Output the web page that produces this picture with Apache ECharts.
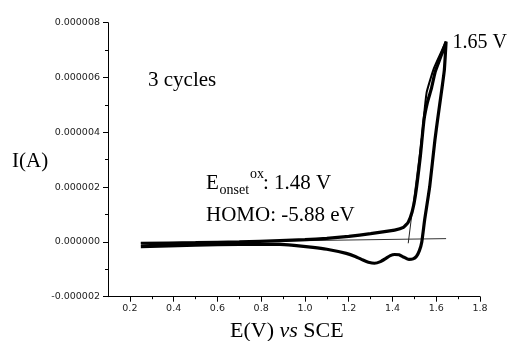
<!DOCTYPE html>
<html>
<head>
<meta charset="utf-8">
<script src="https://cdn.jsdelivr.net/npm/echarts@6/dist/echarts.min.js"></script>
<style>
html,body{margin:0;padding:0;background:#fff;}
#chart{width:511px;height:341px;}
</style>
</head>
<body>
<div id="chart"></div>
<script>
// Potential (V vs SCE) and current (µA)
var forwardScan = [
  [0.25,-0.05],[0.5,-0.03],[0.7,0.0],[0.885,0.05],[1.0,0.08],[1.1,0.13],[1.2,0.2],[1.3,0.3],
  [1.41,0.43],[1.45,0.53],[1.472,0.72],[1.49,1.1],[1.505,1.7],[1.527,3.1],[1.544,4.45],
  [1.56,5.1],[1.578,5.6],[1.595,6.2],[1.618,6.7],[1.645,7.31]
];
var reverseScan = [
  [1.645,7.31],[1.637,6.27],[1.625,5.54],[1.606,4.45],[1.594,3.72],[1.57,2.01],[1.547,0.8],
  [1.534,0.0],[1.523,-0.32],[1.51,-0.52],[1.494,-0.62],[1.475,-0.64],[1.45,-0.55],[1.43,-0.47],
  [1.41,-0.46],[1.39,-0.5],[1.37,-0.6],[1.345,-0.72],[1.318,-0.78],[1.29,-0.74],[1.265,-0.66],
  [1.23,-0.53],[1.189,-0.42],[1.1,-0.27],[1.037,-0.2],[0.95,-0.13],[0.885,-0.09],[0.7,-0.09],
  [0.5,-0.12],[0.25,-0.17]
];
var cycle2Top = [
  [1.527,3.1],[1.544,4.6],[1.556,5.45],[1.57,5.85],[1.59,6.35],[1.615,6.8],[1.645,7.31]
];
var baselineTangent = [[0.25,-0.04],[1.645,0.12]];
var onsetTangent = [[1.472,-0.05],[1.545,4.6]];
var xMajorTicks = [0.2,0.4,0.6,0.8,1.0,1.2,1.4,1.6,1.8];
var xMinorTicks = [0.3,0.5,0.7,0.9,1.1,1.3,1.5,1.7];

function toA(arr){ return arr.map(function(p){ return [p[0], p[1]*1e-6]; }); }

var chart = echarts.init(document.getElementById('chart'), null, {renderer:'canvas'});
var black = '#000';
var serif = '"Liberation Serif","Times New Roman",serif';
var tickFont = '"DejaVu Sans",sans-serif';

chart.setOption({
  animation:false,
  backgroundColor:'#fff',
  grid:{left:108, right:31, top:22.7, bottom:44.3, containLabel:false},
  xAxis:[{
    type:'value', min:0.1, max:1.8, position:'bottom',
    axisLine:{show:true, onZero:false, lineStyle:{color:black, width:1}},
    axisTick:{show:true, customValues:xMajorTicks, length:5, lineStyle:{color:black}},
    axisLabel:{show:true, customValues:xMajorTicks, margin:7, color:'#222', fontFamily:tickFont, fontSize:9.5,
      formatter:function(v){ return v.toFixed(1); }},
    splitLine:{show:false}
  },{
    type:'value', min:0.1, max:1.8, position:'bottom',
    axisLine:{show:false, onZero:false},
    axisTick:{show:true, customValues:xMinorTicks, length:2.5, lineStyle:{color:black}},
    axisLabel:{show:false},
    splitLine:{show:false}
  }],
  yAxis:{
    type:'value', min:-2e-6, max:8e-6, interval:2e-6,
    axisLine:{show:true, onZero:false, lineStyle:{color:black, width:1}},
    axisTick:{show:true, length:5, lineStyle:{color:black}},
    minorTick:{show:true, splitNumber:2, length:3, lineStyle:{color:black}},
    axisLabel:{margin:8, color:'#222', fontFamily:tickFont, fontSize:9.5,
      formatter:function(v){ return v.toFixed(6); }},
    splitLine:{show:false}
  },
  series:[
    {type:'line', data:toA(baselineTangent), showSymbol:false, lineStyle:{color:'#333', width:1}, z:1},
    {type:'line', data:toA(onsetTangent), showSymbol:false, lineStyle:{color:'#222', width:1}, z:1},
    {type:'line', data:toA(forwardScan.concat(reverseScan)), showSymbol:false, smooth:0.15,
      lineStyle:{color:black, width:3.2}, z:2},
    {type:'line', data:toA(cycle2Top), showSymbol:false, smooth:0.15,
      lineStyle:{color:black, width:2}, z:2}
  ],
  graphic:[
    {type:'text', x:12, y:161, style:{text:'I(A)', font:'21px '+serif, fill:black, verticalAlign:'middle'}},
    {type:'text', x:230, y:331, style:{text:'{a|E(V) }{b|vs}{a| SCE}', verticalAlign:'middle', fill:black,
      rich:{a:{fontFamily:serif, fontSize:22, fill:black}, b:{fontFamily:serif, fontSize:22, fontStyle:'italic', fill:black}}}},
    {type:'text', x:148, y:80.6, style:{text:'3 cycles', font:'21px '+serif, fill:black, verticalAlign:'middle'}},
    {type:'text', x:452.5, y:43.2, style:{text:'1.65 V', font:'20px '+serif, fill:black, verticalAlign:'middle'}},
    {type:'text', x:206, y:183, style:{text:'E', font:'21px '+serif, fill:black, verticalAlign:'middle'}},
    {type:'text', x:219.5, y:190.7, style:{text:'onset', font:'14px '+serif, fill:black, verticalAlign:'middle'}},
    {type:'text', x:250, y:174, style:{text:'ox', font:'14px '+serif, fill:black, verticalAlign:'middle'}},
    {type:'text', x:263, y:183, style:{text:': 1.48 V', font:'21px '+serif, fill:black, verticalAlign:'middle'}},
    {type:'text', x:206, y:215.5, style:{text:'HOMO: -5.88 eV', font:'21px '+serif, fill:black, verticalAlign:'middle'}}
  ]
});
</script>
</body>
</html>
